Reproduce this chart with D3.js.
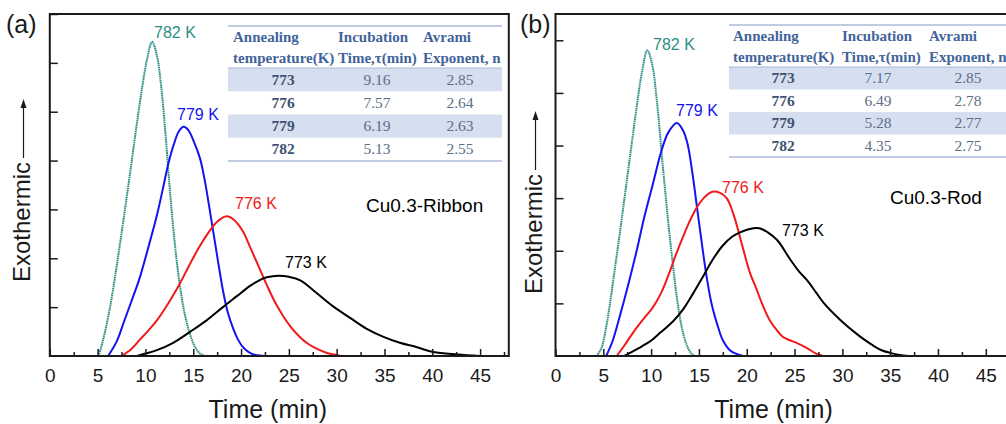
<!DOCTYPE html>
<html>
<head>
<meta charset="utf-8">
<script src="https://cdn.jsdelivr.net/npm/d3@7"></script>
<style>
  body { margin: 0; background: #fff; }
  svg { display: block; }
</style>
</head>
<body>
<main></main>
<script>
// ---- data (time in min, exotherm in arbitrary units) ----
const xTicks = [0, 5, 10, 15, 20, 25, 30, 35, 40, 45];
const curveLabels = ['782 K', '779 K', '776 K', '773 K'];

const ribbon782 = [[5.1,0],[5.6,0.35],[6.3,1.0],[7.0,1.85],[7.7,2.78],[8.4,3.75],[9.1,4.75],[9.7,5.55],[10.2,6.1],[10.7,6.43],[11.2,6.15],[11.6,5.6],[11.9,5.0],[12.2,4.3],[12.6,3.3],[13.1,2.25],[13.6,1.45],[14.1,0.87],[14.7,0.42],[15.2,0.18],[15.7,0.05],[16.2,0]];
const ribbon779 = [[6.1,0],[7.0,0.3],[7.7,0.67],[8.5,1.1],[9.4,1.6],[10.3,2.22],[11.2,2.88],[11.8,3.4],[12.4,3.94],[13.0,4.35],[13.5,4.6],[14.0,4.69],[14.5,4.62],[15.0,4.42],[15.7,4.05],[16.2,3.6],[16.8,2.9],[17.5,2.05],[18.1,1.35],[18.6,0.9],[19.2,0.55],[19.7,0.33],[20.2,0.18],[20.8,0.08],[21.5,0.02],[22.5,0]];
const ribbon776 = [[7.5,0],[8.5,0.14],[9.4,0.33],[10.3,0.52],[11.2,0.73],[12.3,1.05],[13.4,1.41],[14.7,1.9],[15.6,2.22],[16.5,2.5],[17.5,2.75],[18.5,2.86],[19.3,2.78],[20.2,2.55],[20.9,2.25],[21.8,1.85],[22.7,1.45],[23.5,1.12],[24.4,0.82],[25.3,0.57],[26.2,0.38],[27.0,0.25],[27.9,0.15],[29.0,0.06],[30.0,0.02],[30.5,0]];
const ribbon773 = [[9.1,0],[10.0,0.05],[11.2,0.12],[12.9,0.27],[14.7,0.5],[16.4,0.73],[18.1,1.0],[19.6,1.23],[20.9,1.43],[22.0,1.56],[22.7,1.61],[23.9,1.64],[25.0,1.62],[26.2,1.55],[27.9,1.29],[29.6,1.02],[31.4,0.78],[33.1,0.56],[34.9,0.39],[36.6,0.27],[38.4,0.18],[40.1,0.08],[42.6,0.03],[45.0,0]];

const rod782 = [[4.3,0],[4.8,0.15],[5.3,0.55],[5.7,1.0],[6.2,1.65],[6.7,2.3],[7.2,2.98],[7.8,3.8],[8.5,4.75],[9.0,5.35],[9.6,5.81],[10.1,5.55],[10.6,4.85],[11.2,3.65],[11.6,2.9],[11.9,2.35],[12.3,1.7],[12.7,1.1],[13.2,0.55],[13.7,0.22],[14.2,0.05],[14.6,0]];
const rod779 = [[5.3,0],[6.0,0.3],[6.7,0.74],[7.6,1.35],[8.5,2.01],[9.3,2.65],[10.2,3.28],[11.0,3.85],[11.8,4.25],[12.7,4.43],[13.3,4.3],[13.8,4.04],[14.3,3.5],[14.7,2.96],[15.4,2.01],[15.9,1.4],[16.4,0.93],[17.0,0.55],[17.5,0.3],[18.3,0.1],[19.6,0]];
const rod776 = [[6.4,0],[7.2,0.2],[8.1,0.44],[9.1,0.68],[10.2,0.93],[11.0,1.18],[11.9,1.58],[12.6,1.93],[13.3,2.25],[14.0,2.55],[14.7,2.8],[15.5,3.0],[16.4,3.12],[17.2,3.1],[17.9,3.0],[18.6,2.7],[19.6,2.05],[20.3,1.6],[21.0,1.28],[21.7,0.95],[22.4,0.68],[23.1,0.5],[23.8,0.36],[24.5,0.3],[25.2,0.25],[26.3,0.15],[27.2,0.05],[28.0,0]];
const rod773 = [[7.2,0],[8.0,0.08],[9.0,0.18],[9.9,0.28],[11.0,0.45],[12.3,0.66],[13.4,0.9],[14.4,1.19],[15.4,1.5],[16.4,1.82],[17.5,2.1],[18.5,2.27],[19.3,2.35],[20.2,2.41],[21.3,2.43],[22.2,2.35],[23.2,2.2],[24.6,1.82],[25.5,1.6],[26.3,1.44],[27.2,1.22],[28.0,1.02],[29.7,0.7],[31.5,0.42],[32.3,0.31],[33.2,0.2],[34.1,0.11],[35.0,0.06],[36.0,0.02],[36.9,0]];

// table contents
const tableHeader = [['Annealing', 'temperature(K)'], ['Incubation', 'Time,\u03c4(min)'], ['Avrami', 'Exponent, n']];
const tempCol = ['773', '776', '779', '782'];
const ribbonTau = ['9.16', '7.57', '6.19', '5.13'];
const ribbonN = ['2.85', '2.64', '2.63', '2.55'];
const rodTau = ['7.17', '6.49', '5.28', '4.35'];
const rodN = ['2.85', '2.78', '2.77', '2.75'];

// ---- setup ----
const width = 1006, height = 424;
const svg = d3.select('main').append('svg')
    .attr('width', width)
    .attr('height', height);

const sans = 'Liberation Sans, Arial, sans-serif';
const serif = 'Liberation Serif, Times New Roman, serif';
const colors = ['#2b8f82', '#1414f0', '#f01a1a', '#000'];

function drawPanel(p) {
    const x = d3.scaleLinear().domain([0, 48]).range([p.left, p.left + 459]);
    const y = d3.scaleLinear().domain([0, p.yMax]).range([356, 14]);
    const g = svg.append('g');

    // table behind the curves
    const t = p.table;
    const rowH = (t.bottom - t.rowTop) / 4;
    g.selectAll('rect.row').data([0, 2]).enter().append('rect')
        .attr('x', t.left).attr('width', t.width)
        .attr('y', i => t.rowTop + i * rowH).attr('height', rowH)
        .attr('fill', '#d5dff0');
    [t.top, t.rowTop, t.bottom].forEach((yy, i) => {
        g.append('line')
            .attr('x1', t.left).attr('x2', t.left + t.width)
            .attr('y1', yy).attr('y2', yy)
            .attr('stroke', '#a8bad6').attr('stroke-width', i === 1 ? 1 : 1.6);
    });
    tableHeader.forEach((h, c) => {
        h.forEach((s, k) => {
            g.append('text')
                .attr('x', t.colLeft[c]).attr('y', t.top + 16 + k * 21)
                .attr('font-family', serif).attr('font-weight', 'bold')
                .attr('font-size', 15).attr('fill', '#42639a')
                .text(s);
        });
    });
    const cols = [tempCol, p.tau, p.n];
    cols.forEach((col, c) => {
        col.forEach((s, r) => {
            g.append('text')
                .attr('x', t.colMid[c]).attr('y', t.rowTop + r * rowH + rowH / 2 + 5)
                .attr('text-anchor', 'middle')
                .attr('font-family', serif)
                .attr('font-weight', c === 0 ? 'bold' : 'normal')
                .attr('font-size', 15.5)
                .attr('fill', c === 0 ? '#3e5272' : '#5d6e88')
                .text(s);
        });
    });

    // curves
    const line = d3.line()
        .x(d => x(d[0]))
        .y(d => y(d[1]))
        .curve(d3.curveCatmullRom.alpha(0.5));
    p.curves.forEach((c, i) => {
        g.append('path')
            .datum(c)
            .attr('fill', 'none')
            .attr('stroke', colors[i])
            .attr('stroke-width', 2)
            .attr('stroke-dasharray', i === 0 ? '1.6,0.6' : null)
            .attr('d', line);
    });

    // curve labels
    p.labels.forEach((l, i) => {
        g.append('text')
            .attr('x', l[0]).attr('y', l[1])
            .attr('font-family', sans).attr('font-size', 16)
            .attr('fill', colors[i])
            .text(curveLabels[i]);
    });
    g.append('text')
        .attr('x', p.sample[0]).attr('y', p.sample[1])
        .attr('font-family', sans).attr('font-size', 19)
        .text(p.sample[2]);

    // frame
    g.append('rect')
        .attr('x', x(0)).attr('y', y(p.yMax))
        .attr('width', x(48) - x(0)).attr('height', y(0) - y(p.yMax))
        .attr('fill', 'none').attr('stroke', '#1a1a1a').attr('stroke-width', 2);

    // x axis: ticks inward, minor ticks every 2.5
    const xAxis = g.append('g').attr('transform', `translate(0,${y(0)})`)
        .call(d3.axisBottom(x).tickValues(xTicks).tickSize(-7).tickPadding(13))
        .call(a => a.select('.domain').remove());
    xAxis.selectAll('line').attr('stroke', '#1a1a1a').attr('stroke-width', 1.5);
    xAxis.selectAll('text').attr('font-family', sans).attr('font-size', 19).attr('fill', '#1a1a1a');
    g.append('g').attr('transform', `translate(0,${y(0)})`)
        .call(d3.axisBottom(x).tickValues(d3.range(2.5, 48, 5)).tickSize(-4).tickFormat(''))
        .call(a => a.select('.domain').remove())
        .selectAll('line').attr('stroke', '#1a1a1a').attr('stroke-width', 1.5);

    // y axis: inward ticks, no labels
    g.append('g').attr('transform', `translate(${x(0)},0)`)
        .call(d3.axisLeft(y).tickValues(d3.range(1, Math.floor(p.yMax) + 1)).tickSize(-8).tickFormat(''))
        .call(a => a.select('.domain').remove())
        .selectAll('line').attr('stroke', '#1a1a1a').attr('stroke-width', 1.5);

    // axis titles
    g.append('text')
        .attr('x', x(0) + 218).attr('y', 418)
        .attr('text-anchor', 'middle')
        .attr('font-family', sans).attr('font-size', 25).attr('fill', '#1a1a1a')
        .text('Time (min)');
    g.append('text')
        .attr('transform', `translate(${p.yTitle[0]},${p.yTitle[1]}) rotate(-90)`)
        .attr('font-family', sans).attr('font-size', 24).attr('fill', '#1a1a1a')
        .text('Exothermic');
    const ax = p.yTitle[0] - 6.5;
    g.append('line')
        .attr('x1', ax).attr('x2', ax)
        .attr('y1', p.yTitle[1] - 124).attr('y2', p.yTitle[1] - 178)
        .attr('stroke', '#1a1a1a').attr('stroke-width', 1.2);
    g.append('path')
        .attr('d', `M${ax},${p.yTitle[1] - 183} l-3,9 l6,0 Z`)
        .attr('fill', '#1a1a1a');

    // panel letter
    g.append('text')
        .attr('x', p.letter[0]).attr('y', 33)
        .attr('font-family', sans).attr('font-size', 25).attr('fill', '#1a1a1a')
        .text(p.letter[1]);
}

drawPanel({
    left: 49.8, yMax: 7,
    curves: [ribbon782, ribbon779, ribbon776, ribbon773],
    labels: [[154, 38], [177, 120], [235, 209], [285, 268]],
    sample: [366, 212, 'Cu0.3-Ribbon'],
    tau: ribbonTau, n: ribbonN,
    table: { left: 228, width: 274, top: 26, rowTop: 68, bottom: 161,
             colLeft: [233, 338, 423], colMid: [283, 377, 460] },
    yTitle: [30, 282],
    letter: [6, '(a)']
});

drawPanel({
    left: 555.5, yMax: 6.5,
    curves: [rod782, rod779, rod776, rod773],
    labels: [[653, 50], [676, 116], [722, 193], [782, 236]],
    sample: [890, 204, 'Cu0.3-Rod'],
    tau: rodTau, n: rodN,
    table: { left: 729, width: 290, top: 25, rowTop: 67, bottom: 157,
             colLeft: [733, 842, 929], colMid: [783, 878, 968] },
    yTitle: [542, 294],
    letter: [520, '(b)']
});
</script>
</body>
</html>
